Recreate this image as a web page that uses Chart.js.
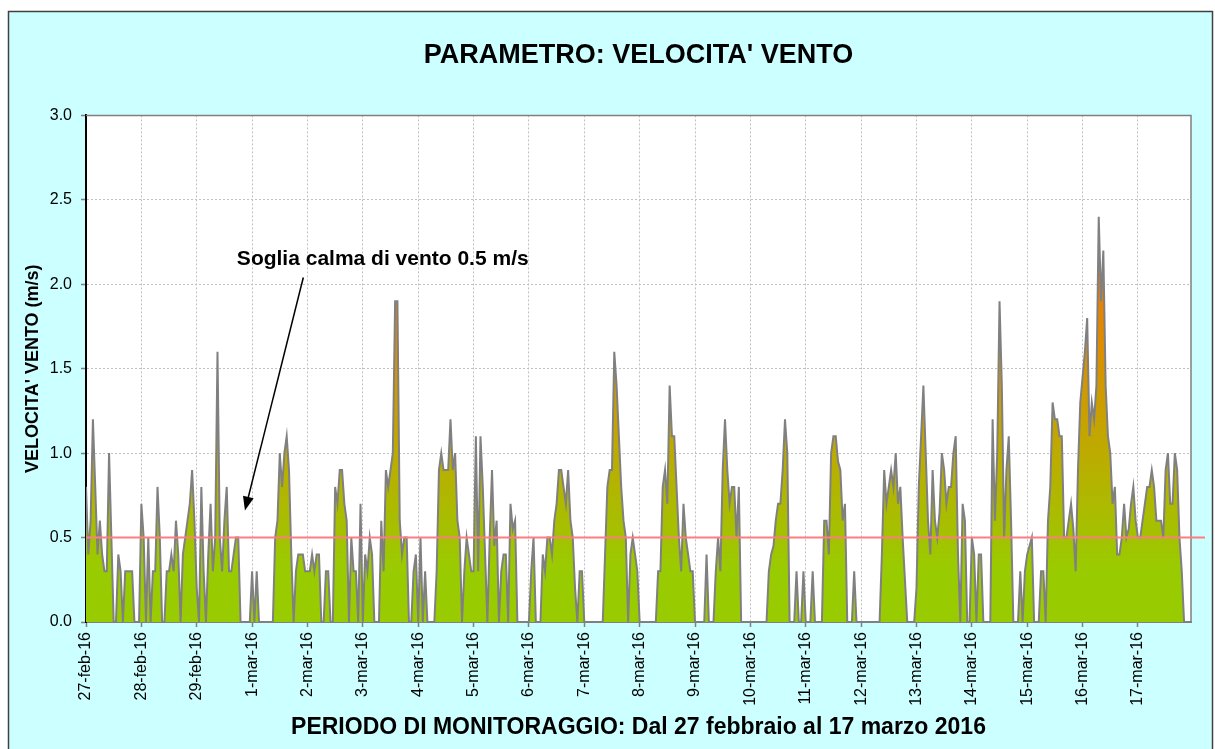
<!DOCTYPE html>
<html lang="it">
<head>
<meta charset="utf-8">
<title>Parametro: velocita' vento</title>
<script src="https://cdn.jsdelivr.net/npm/chart.js@4.4.1/dist/chart.umd.min.js"></script>
<style>
    html, body { margin: 0; padding: 0; background: #fff; }
    canvas { display: block; }
</style>
</head>
<body>
<canvas id="grafico" width="1215" height="749"></canvas>
<script>
// un'etichetta per giorno, i dati sono orari (24 valori al giorno)
const giorni = ['27-feb-16', '28-feb-16', '29-feb-16', '1-mar-16', '2-mar-16', '3-mar-16', '4-mar-16',
    '5-mar-16', '6-mar-16', '7-mar-16', '8-mar-16', '9-mar-16', '10-mar-16', '11-mar-16', '12-mar-16',
    '13-mar-16', '14-mar-16', '15-mar-16', '16-mar-16', '17-mar-16'];

// velocita' vento media oraria (m/s)
const velocita = [
    0.8, 0.4, 0.6, 1.2, 0.8, 0.4, 0.6, 0.4, 0.3, 0.3, 1.0, 0.5, 0, 0, 0.4, 0.3, 0, 0.3, 0.3, 0.3, 0.3, 0, 0, 0,            // 27-feb
    0.7, 0.5, 0, 0.5, 0, 0.3, 0.3, 0.8, 0.5, 0, 0, 0.3, 0.3, 0.4, 0.3, 0.6, 0.4, 0, 0.4, 0.5, 0.6, 0.7, 0.9, 0.6,          // 28-feb
    0.2, 0, 0.8, 0.3, 0, 0.4, 0.7, 0.3, 0.5, 1.6, 0.5, 0.3, 0.6, 0.8, 0.3, 0.3, 0.4, 0.5, 0.5, 0, 0, 0, 0, 0,              // 29-feb
    0.3, 0, 0.3, 0, 0, 0, 0, 0, 0, 0, 0.5, 0.6, 1.0, 0.8, 1.0, 1.1, 0.9, 0.4, 0, 0.3, 0.4, 0.4, 0.4, 0.3,                  // 1-mar
    0.3, 0.3, 0.4, 0.3, 0.4, 0.4, 0, 0, 0.3, 0.3, 0, 0, 0.8, 0.7, 0.9, 0.9, 0.7, 0.6, 0, 0.5, 0.3, 0.3, 0, 0.7,            // 2-mar
    0, 0.4, 0.3, 0.5, 0.4, 0, 0, 0, 0.6, 0.3, 0.9, 0.8, 0.9, 1.0, 1.9, 1.9, 0.6, 0.4, 0.5, 0.5, 0, 0, 0.3, 0.4,            // 3-mar
    0, 0.5, 0, 0.3, 0, 0, 0, 0, 0.3, 0.9, 1.0, 0.9, 0.9, 0.9, 1.2, 0.9, 1.0, 0.6, 0.5, 0, 0.3, 0.5, 0.4, 0.3,              // 4-mar
    0.3, 1.1, 0.3, 1.1, 0.8, 0.4, 0, 0.5, 0.9, 0.45, 0.6, 0, 0.3, 0.4, 0.4, 0, 0.7, 0.55, 0.6, 0, 0, 0, 0, 0,              // 5-mar
    0, 0.3, 0.5, 0, 0, 0, 0.4, 0.3, 0.5, 0.5, 0.4, 0.6, 0.7, 0.9, 0.9, 0.8, 0.7, 0.9, 0.6, 0.5, 0.2, 0, 0.3, 0.3,          // 6-mar
    0, 0, 0, 0, 0, 0, 0, 0, 0, 0.4, 0.8, 0.9, 0.9, 1.6, 1.4, 1.1, 0.8, 0.6, 0.5, 0, 0.4, 0.5, 0.4, 0.3,                    // 7-mar
    0, 0, 0, 0, 0, 0, 0, 0, 0.3, 0.3, 0.8, 0.9, 0.7, 1.4, 1.1, 1.1, 0.8, 0.5, 0.3, 0.7, 0.5, 0.4, 0.3, 0.3,                // 8-mar
    0, 0, 0, 0, 0, 0.4, 0, 0, 0, 0.3, 0.5, 0.3, 0.9, 1.2, 0.9, 0.7, 0.8, 0.8, 0.5, 0.8, 0, 0, 0, 0,                        // 9-mar
    0, 0, 0, 0, 0, 0, 0, 0, 0.3, 0.4, 0.45, 0.6, 0.7, 0.7, 0.9, 1.2, 1.0, 0, 0, 0, 0.3, 0, 0, 0.3,                         // 10-mar
    0, 0, 0, 0.3, 0, 0, 0, 0, 0.6, 0.6, 0.4, 1.0, 1.1, 1.1, 0.95, 0.9, 0.6, 0.7, 0, 0, 0, 0.3, 0, 0,                       // 11-mar
    0, 0, 0, 0, 0, 0, 0, 0, 0, 0.4, 0.9, 0.7, 0.8, 0.9, 0.8, 1.0, 0.7, 0.8, 0.5, 0.25, 0, 0, 0, 0,                          // 12-mar
    0.2, 0.8, 1.1, 1.4, 1.0, 0.6, 0.4, 0.9, 0.6, 0.5, 0.65, 1.0, 0.9, 0.7, 0.8, 0.8, 1.0, 1.1, 0.4, 0, 0.7, 0.6, 0, 0,     // 13-mar
    0.5, 0.4, 0, 0.4, 0.4, 0, 0, 0, 0, 1.2, 0.6, 1.0, 1.9, 1.4, 0.5, 0.9, 1.1, 0.6, 0, 0, 0, 0.3, 0, 0.3,                  // 14-mar
    0.4, 0.45, 0.5, 0, 0, 0, 0.3, 0.3, 0, 0.6, 0.8, 1.3, 1.2, 1.2, 1.1, 1.1, 0.5, 0.5, 0.6, 0.7, 0.55, 0.3, 0.9, 1.3,      // 15-mar
    1.45, 1.6, 1.8, 1.1, 1.3, 1.2, 1.4, 2.4, 1.9, 2.2, 1.4, 1.1, 1.0, 0.7, 0.8, 0.4, 0.4, 0.5, 0.7, 0.5, 0.55, 0.7, 0.8, 0.6, // 16-mar
    0.5, 0.5, 0.6, 0.7, 0.8, 0.8, 0.9, 0.8, 0.6, 0.6, 0.6, 0.5, 0.9, 1.0, 0.7, 0.7, 1.0, 0.9, 0.5, 0.3, 0                  // 17-mar
];

const SOGLIA = 0.5;   // soglia calma di vento (m/s)
const ORE_GIORNO = 24;

// nota con freccia, posizionata in unita' del grafico (ore, m/s)
const nota = {
    testo: 'Soglia calma di vento 0.5 m/s',
    x: 65.4, y: 2.15,
    daX: 94.2, daY: 2.04,
    aX: 68.9, aY: 0.66
};

Chart.defaults.font.family = "'Liberation Sans', Arial, Helvetica, sans-serif";
Chart.defaults.color = '#000';

function riempimento(context) {
    const {ctx, chartArea, scales} = context.chart;
    if (!chartArea) return null;
    const g = ctx.createLinearGradient(0, scales.y.getPixelForValue(0.3), 0, scales.y.getPixelForValue(2.3));
    g.addColorStop(0, '#99CC00');
    g.addColorStop(1, '#FF6E00');
    return g;
}

const sfondo = {
    id: 'sfondo',
    beforeDraw(chart) {
        const {ctx, chartArea: a, width, height} = chart;
        ctx.save();
        ctx.fillStyle = '#fff';
        ctx.fillRect(0, 0, width, height);
        ctx.fillStyle = '#CCFFFF';
        ctx.fillRect(8, 11, width - 10, height);
        ctx.strokeStyle = '#404040';
        ctx.lineWidth = 1.5;
        ctx.strokeRect(8.5, 11.5, width - 11, height + 10);
        ctx.fillStyle = '#fff';
        ctx.fillRect(a.left, a.top, a.width, a.height);
        ctx.restore();
    }
};

const sogliaENota = {
    id: 'sogliaENota',
    afterDatasetsDraw(chart) {
        const {ctx, chartArea: a, scales: {x, y}} = chart;
        ctx.save();
        // cornice alta e destra dell'area del grafico
        ctx.strokeStyle = '#808080';
        ctx.lineWidth = 1.5;
        ctx.beginPath();
        ctx.moveTo(a.left, a.top);
        ctx.lineTo(a.right, a.top);
        ctx.lineTo(a.right, a.bottom);
        ctx.stroke();

        // linea di soglia, sporge un po' oltre il bordo destro come nell'originale
        const ys = y.getPixelForValue(SOGLIA);
        ctx.strokeStyle = '#FF7C80';
        ctx.lineWidth = 2;
        ctx.beginPath();
        ctx.moveTo(a.left, ys);
        ctx.lineTo(a.right + 14, ys);
        ctx.stroke();

        // testo
        ctx.fillStyle = '#000';
        ctx.font = "bold 21px 'Liberation Sans', Arial, sans-serif";
        ctx.textAlign = 'left';
        ctx.textBaseline = 'middle';
        ctx.fillText(nota.testo, x.getPixelForValue(nota.x), y.getPixelForValue(nota.y));

        // freccia
        const x1 = x.getPixelForValue(nota.daX), y1 = y.getPixelForValue(nota.daY);
        const x2 = x.getPixelForValue(nota.aX), y2 = y.getPixelForValue(nota.aY);
        const ang = Math.atan2(y2 - y1, x2 - x1);
        ctx.strokeStyle = '#000';
        ctx.lineWidth = 1.5;
        ctx.beginPath();
        ctx.moveTo(x1, y1);
        ctx.lineTo(x2 - 10 * Math.cos(ang), y2 - 10 * Math.sin(ang));
        ctx.stroke();
        ctx.beginPath();
        ctx.moveTo(x2, y2);
        ctx.lineTo(x2 - 14 * Math.cos(ang) + 5.5 * Math.sin(ang), y2 - 14 * Math.sin(ang) - 5.5 * Math.cos(ang));
        ctx.lineTo(x2 - 14 * Math.cos(ang) - 5.5 * Math.sin(ang), y2 - 14 * Math.sin(ang) + 5.5 * Math.cos(ang));
        ctx.closePath();
        ctx.fill();
        ctx.restore();
    }
};

function creaGrafico() {
    const ctx = document.getElementById('grafico');
    return new Chart(ctx, {
        type: 'line',
        data: {
            datasets: [{
                label: "Velocita' vento",
                data: velocita.map((v, i) => ({x: i, y: v})),
                borderColor: '#808080',
                borderWidth: 2,
                backgroundColor: riempimento,
                fill: 'origin',
                pointRadius: 0,
                tension: 0
            }]
        },
        options: {
            responsive: false,
            animation: false,
            layout: {
                padding: {left: 0, right: 24, top: 0, bottom: 0}
            },
            plugins: {
                legend: {display: false},
                tooltip: {enabled: false},
                title: {
                    display: true,
                    fullSize: false,
                    text: "PARAMETRO: VELOCITA' VENTO",
                    color: '#000',
                    font: {size: 27, weight: 'bold'},
                    padding: {top: 39, bottom: 44}
                }
            },
            scales: {
                x: {
                    type: 'linear',
                    min: 0,
                    max: 479,
                    afterFit: (s) => { s.height = 127; },
                    ticks: {
                        stepSize: ORE_GIORNO,
                        includeBounds: false,
                        autoSkip: false,
                        maxRotation: 90,
                        minRotation: 90,
                        padding: 5,
                        color: '#000',
                        font: {size: 16},
                        callback: (v) => giorni[v / ORE_GIORNO]
                    },
                    grid: {
                        color: '#C0C0C0',
                        lineWidth: 1,
                        tickLength: 5,
                        tickColor: '#808080',
                        tickWidth: 1.5
                    },
                    border: {color: '#808080', width: 2, dash: [2, 2]},
                    title: {
                        display: true,
                        text: 'PERIODO DI MONITORAGGIO: Dal 27 febbraio al 17 marzo 2016',
                        color: '#000',
                        font: {size: 23, weight: 'bold'},
                        padding: {top: 0, bottom: 8}
                    }
                },
                y: {
                    min: 0,
                    max: 3,
                    afterFit: (s) => { s.width = 86; },
                    ticks: {
                        stepSize: 0.5,
                        padding: 9,
                        color: '#000',
                        font: {size: 16},
                        callback: (v) => v.toFixed(1)
                    },
                    grid: {
                        color: '#C0C0C0',
                        lineWidth: 1,
                        tickLength: 5,
                        tickColor: '#808080',
                        tickWidth: 1.5
                    },
                    border: {color: '#000', width: 2, dash: [2, 2]},
                    title: {
                        display: true,
                        text: "VELOCITA' VENTO (m/s)",
                        color: '#000',
                        font: {size: 18, weight: 'bold'},
                        padding: {top: 22, bottom: 0}
                    }
                }
            }
        },
        plugins: [sfondo, sogliaENota]
    });
}

creaGrafico();
</script>
</body>
</html>
